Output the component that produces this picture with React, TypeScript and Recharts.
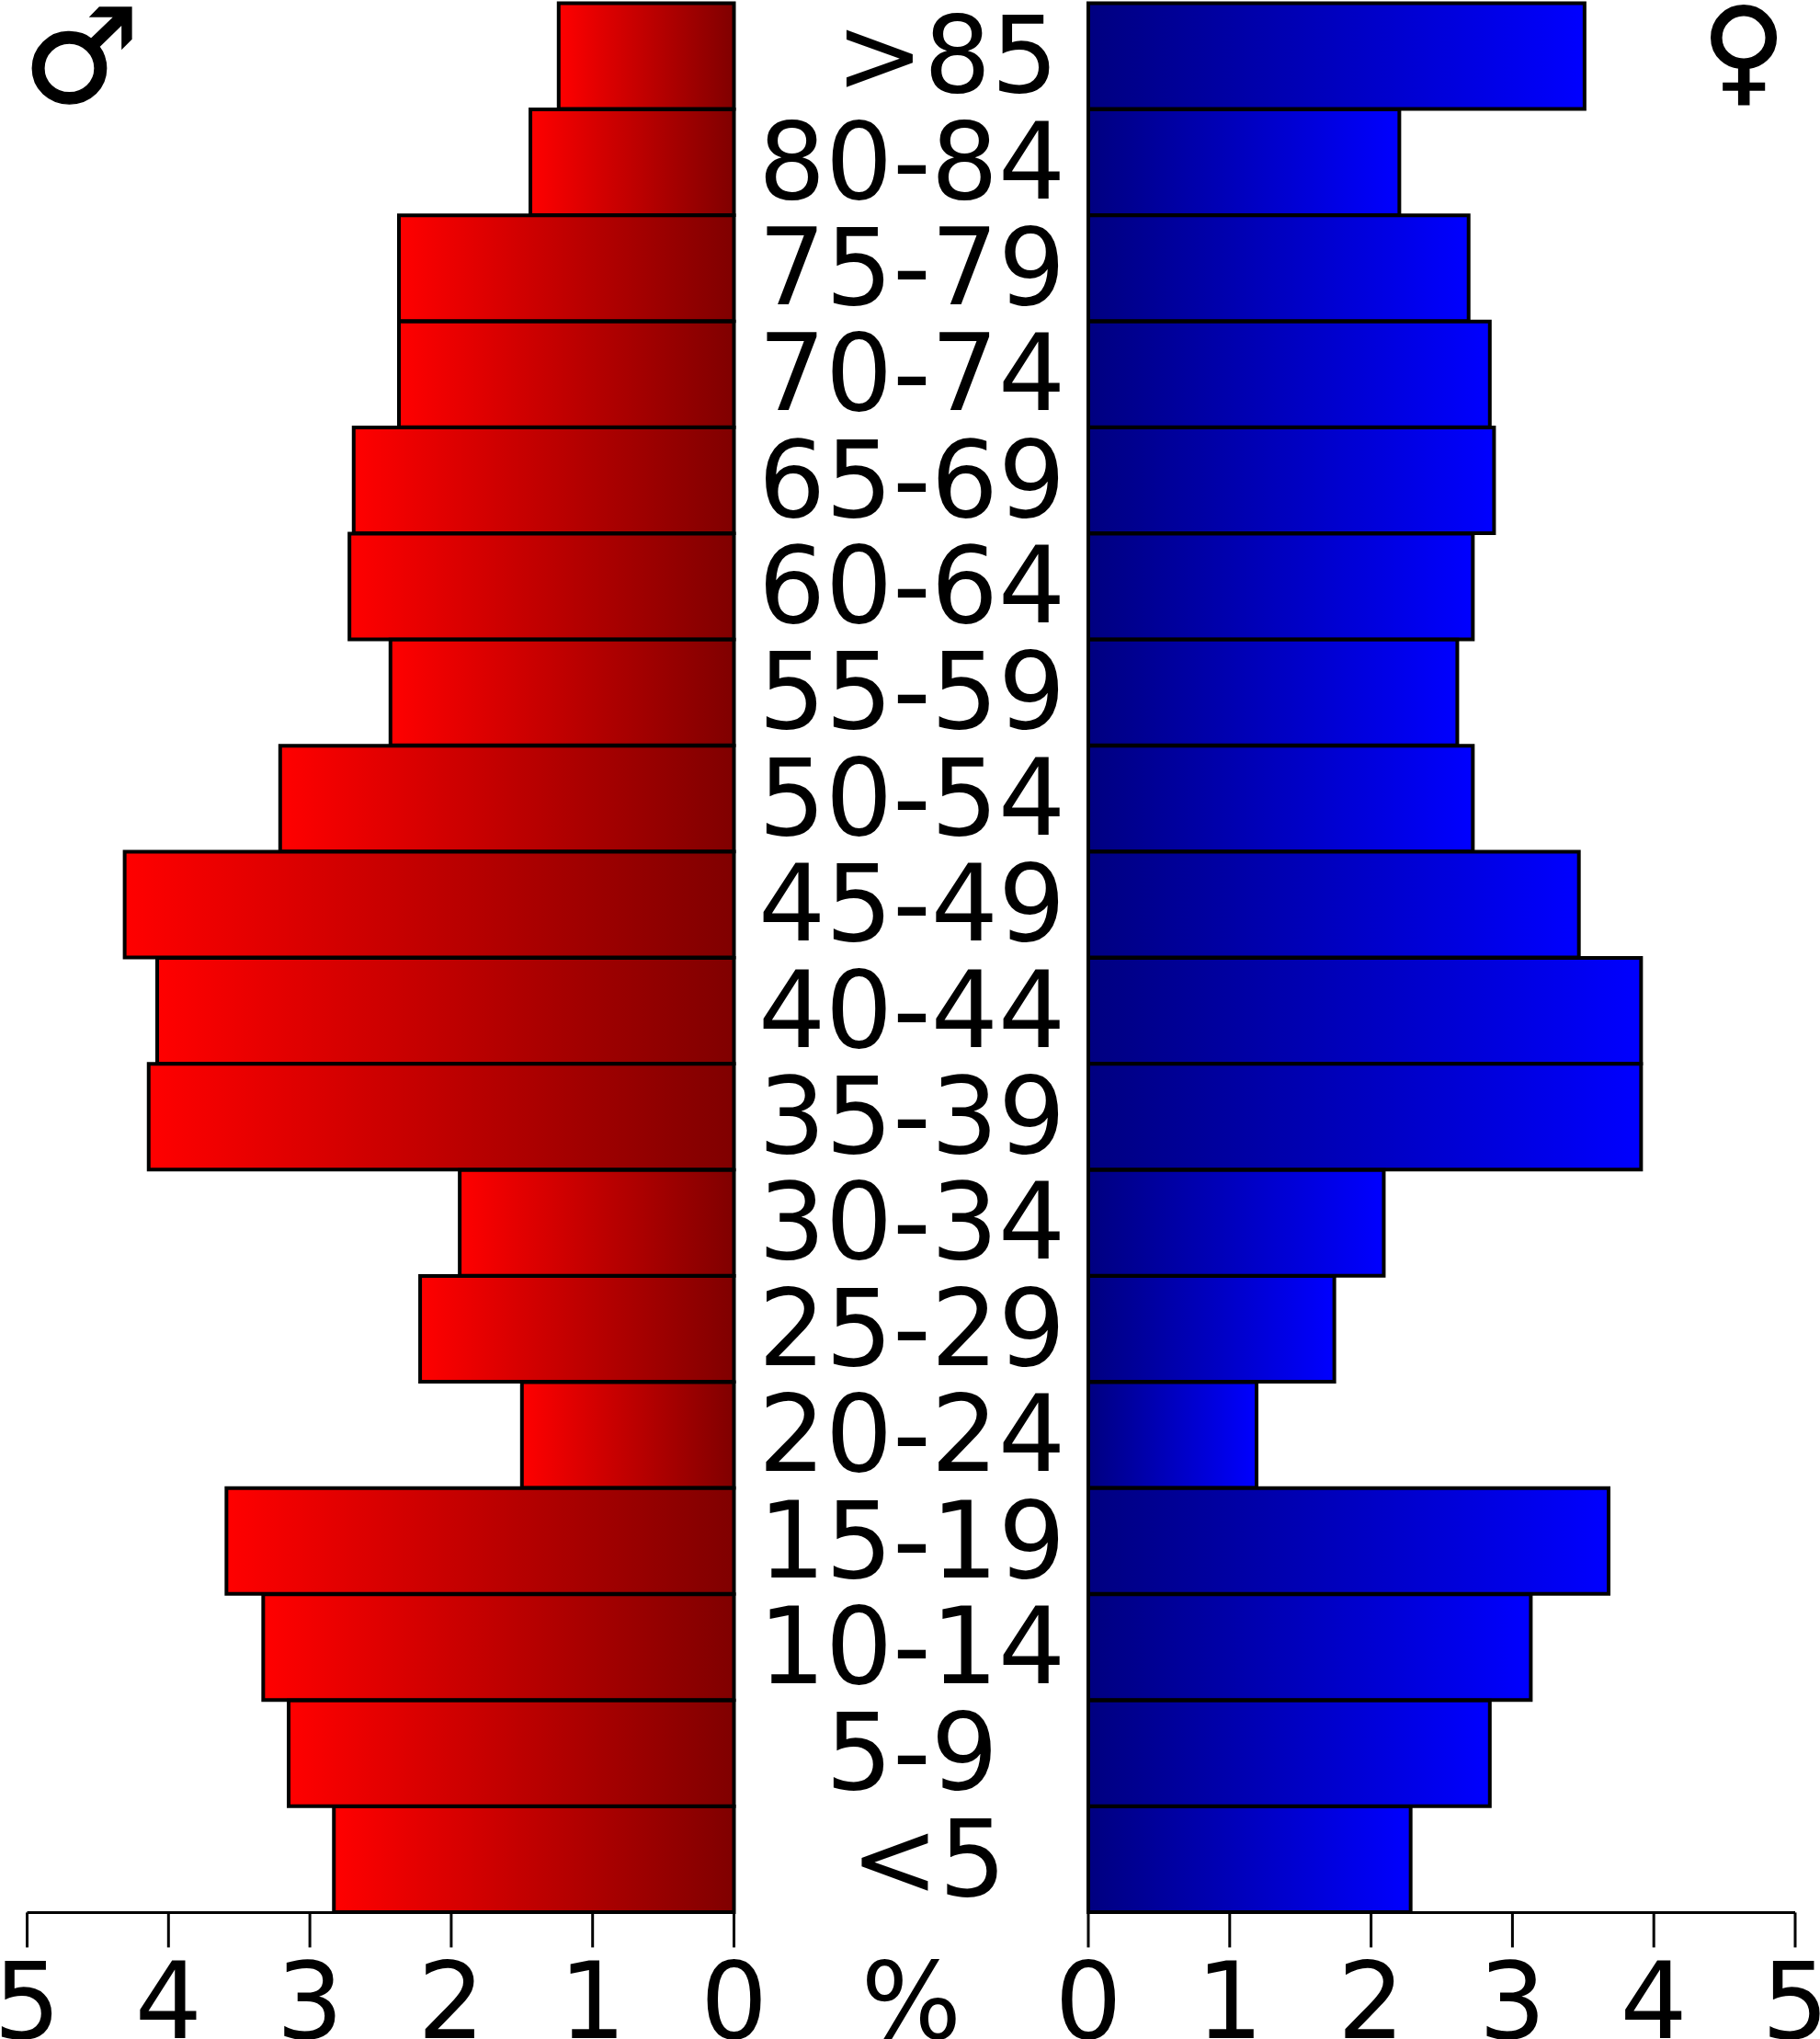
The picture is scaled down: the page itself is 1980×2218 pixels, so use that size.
import { BarChart, Bar, XAxis, YAxis } from "recharts";

const ageGroups = [">85", "80-84", "75-79", "70-74", "65-69", "60-64", "55-59", "50-54", "45-49", "40-44", "35-39", "30-34", "25-29", "20-24", "15-19", "10-14", "5-9", "<5"];
const malePercent = [1.24, 1.44, 2.37, 2.37, 2.69, 2.72, 2.43, 3.21, 4.31, 4.08, 4.14, 1.94, 2.22, 1.5, 3.59, 3.33, 3.15, 2.83];
const femalePercent = [3.51, 2.2, 2.69, 2.84, 2.87, 2.72, 2.61, 2.72, 3.47, 3.91, 3.91, 2.09, 1.74, 1.19, 3.68, 3.13, 2.84, 2.28];
const percentTicks = [0, 1, 2, 3, 4, 5];

const rows = ageGroups.map((age, i) => ({ age, male: malePercent[i], female: femalePercent[i] }));

const FONT = "DejaVu Sans";
const FONT_SIZE = 115;
const PLOT_TOP = 3.5;
const AXIS_HEIGHT = 137.6;

function PercentTick({ x, payload }: any) {
  return (
    <text x={x} y={2216.5} textAnchor="middle" fontFamily={FONT} fontSize={FONT_SIZE} fill="#000">
      {payload.value}
    </text>
  );
}

// the two outer labels sit a little right of the column centre
const labelShift: Record<string, number> = { ">85": 38, "<5": 18 };

function AgeTick({ y, payload }: any) {
  return (
    <text
      x={211 + (labelShift[payload.value] ?? 0)}
      y={y + 39}
      textAnchor="middle"
      fontFamily={FONT}
      fontSize={FONT_SIZE}
      fill="#000"
    >
      {payload.value}
    </text>
  );
}

export default function App() {
  return (
    <div style={{ position: "absolute", left: 0, top: 0, width: 1980, height: 2218, overflow: "hidden", background: "#fff" }}>
      <div style={{ position: "absolute", left: 0, top: 0 }}>
        <BarChart
          width={840}
          height={2218}
          data={rows}
          layout="vertical"
          barCategoryGap={0}
          margin={{ top: PLOT_TOP, right: 41.5, bottom: 0, left: 29.5 }}
        >
          <defs>
            <linearGradient id="maleFill" x1="0" y1="0" x2="1" y2="0">
              <stop offset="0" stopColor="#ff0000" />
              <stop offset="1" stopColor="#800000" />
            </linearGradient>
          </defs>
          <XAxis
            type="number"
            domain={[0, 5]}
            reversed
            ticks={percentTicks}
            interval={0}
            height={AXIS_HEIGHT}
            tickSize={38}
            stroke="#000"
            strokeWidth={3}
            tick={PercentTick}
          />
          <YAxis type="category" dataKey="age" hide />
          <Bar dataKey="male" fill="url(#maleFill)" stroke="#000" strokeWidth={4} isAnimationActive={false} />
          <text x={24} y={111} fontFamily={FONT} fontSize={143} fill="#000" stroke="#000" strokeWidth={1.5}>♂</text>
        </BarChart>
      </div>
      <div style={{ position: "absolute", left: 781, top: 0 }}>
        <BarChart
          width={1199}
          height={2218}
          data={rows}
          layout="vertical"
          barCategoryGap={0}
          margin={{ top: PLOT_TOP, right: 27, bottom: 0, left: 0 }}
        >
          <defs>
            <linearGradient id="femaleFill" x1="0" y1="0" x2="1" y2="0">
              <stop offset="0" stopColor="#000080" />
              <stop offset="1" stopColor="#0000ff" />
            </linearGradient>
          </defs>
          <XAxis
            type="number"
            domain={[0, 5]}
            ticks={percentTicks}
            interval={0}
            height={AXIS_HEIGHT}
            tickSize={38}
            stroke="#000"
            strokeWidth={3}
            tick={PercentTick}
          />
          <YAxis
            type="category"
            dataKey="age"
            width={403}
            interval={0}
            axisLine={false}
            tickLine={false}
            tick={AgeTick}
          />
          <Bar dataKey="female" fill="url(#femaleFill)" stroke="#000" strokeWidth={4} isAnimationActive={false} />
          <text x={210.5} y={2216.5} textAnchor="middle" fontFamily={FONT} fontSize={FONT_SIZE} fill="#000">%</text>
          <text x={1070} y={98} fontFamily={FONT} fontSize={126} fill="#000" stroke="#000" strokeWidth={1.5}>♀</text>
        </BarChart>
      </div>
    </div>
  );
}
